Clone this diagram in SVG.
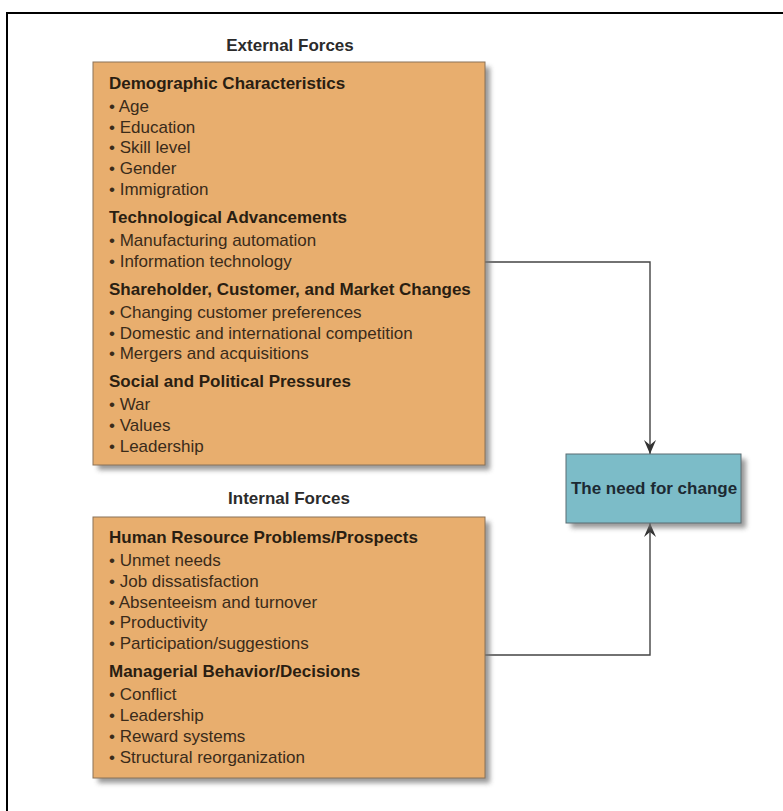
<svg xmlns="http://www.w3.org/2000/svg" width="783" height="811" viewBox="0 0 783 811">
  <defs>
    <filter id="soft" x="-10%" y="-10%" width="120%" height="120%">
      <feGaussianBlur stdDeviation="2.5"/>
    </filter>
    <marker id="arrow" viewBox="0 0 14 12" refX="14" refY="6" markerWidth="14" markerHeight="12" markerUnits="userSpaceOnUse" orient="auto">
      <path d="M0,0 L14,6 L0,12 L5,6 Z" fill="#333"/>
    </marker>
    <style>
      text { font-family: "Liberation Sans", Arial, sans-serif; font-size: 17px; }
      .title { font-weight: bold; fill: #2b2b2b; text-anchor: middle; }
      .head { font-weight: bold; fill: #2a1e12; }
      .item { fill: #3a2b1a; }
      .box { fill: #E8AE6E; stroke: #8a7258; stroke-width: 1; }
      .shadow { fill: #777; opacity: 0.75; filter: url(#soft); }
      .blue { fill: #7CBCC8; stroke: #5a6c72; stroke-width: 1; }
      .wire { fill: none; stroke: #444; stroke-width: 1.4; }
    </style>
  </defs>

  <rect width="783" height="811" fill="#fff"/>
  <!-- page frame -->
  <path d="M7,811 V13 H783" fill="none" stroke="#000" stroke-width="2"/>

  <!-- section titles -->
  <text class="title" x="290" y="51">External Forces</text>
  <text class="title" x="289" y="504">Internal Forces</text>

  <!-- connectors -->
  <g id="connectors">
    <path class="wire" d="M485,262 H650 V454" marker-end="url(#arrow)"/>
    <path class="wire" d="M485,655 H650 V523" marker-end="url(#arrow)"/>
  </g>

  <g id="external">
    <rect class="shadow" x="98" y="67" width="392" height="403"/>
    <rect class="box" x="93" y="62" width="392" height="403"/>
    <text class="head" x="109" y="89">Demographic Characteristics</text>
    <text class="item" x="109" y="112">• Age</text>
    <text class="item" x="109" y="133">• Education</text>
    <text class="item" x="109" y="153">• Skill level</text>
    <text class="item" x="109" y="174">• Gender</text>
    <text class="item" x="109" y="195">• Immigration</text>
    <text class="head" x="109" y="223">Technological Advancements</text>
    <text class="item" x="109" y="246">• Manufacturing automation</text>
    <text class="item" x="109" y="267">• Information technology</text>
    <text class="head" x="109" y="295">Shareholder, Customer, and Market Changes</text>
    <text class="item" x="109" y="318">• Changing customer preferences</text>
    <text class="item" x="109" y="339">• Domestic and international competition</text>
    <text class="item" x="109" y="359">• Mergers and acquisitions</text>
    <text class="head" x="109" y="387">Social and Political Pressures</text>
    <text class="item" x="109" y="410">• War</text>
    <text class="item" x="109" y="431">• Values</text>
    <text class="item" x="109" y="452">• Leadership</text>
  </g>

  <g id="internal">
    <rect class="shadow" x="98" y="522" width="392" height="261"/>
    <rect class="box" x="93" y="517" width="392" height="261"/>
    <text class="head" x="109" y="543">Human Resource Problems/Prospects</text>
    <text class="item" x="109" y="566">• Unmet needs</text>
    <text class="item" x="109" y="587">• Job dissatisfaction</text>
    <text class="item" x="109" y="608">• Absenteeism and turnover</text>
    <text class="item" x="109" y="628">• Productivity</text>
    <text class="item" x="109" y="649">• Participation/suggestions</text>
    <text class="head" x="109" y="677">Managerial Behavior/Decisions</text>
    <text class="item" x="109" y="700">• Conflict</text>
    <text class="item" x="109" y="721">• Leadership</text>
    <text class="item" x="109" y="742">• Reward systems</text>
    <text class="item" x="109" y="763">• Structural reorganization</text>
  </g>

  <g id="need">
    <rect class="shadow" x="571" y="459" width="175" height="69"/>
    <rect class="blue" x="566" y="454" width="175" height="69"/>
    <text x="654" y="494" text-anchor="middle" font-weight="bold" fill="#1c2a33">The need for change</text>
  </g>
</svg>
